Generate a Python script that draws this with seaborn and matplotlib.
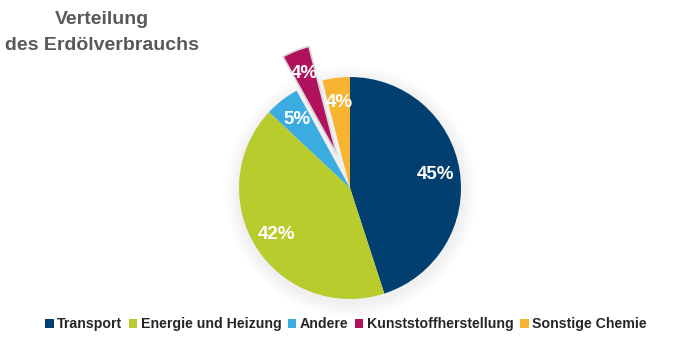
import matplotlib
matplotlib.use("Agg")
import matplotlib.pyplot as plt
from matplotlib.patches import Patch, Circle
from matplotlib import font_manager
import seaborn as sns

categories = ["Transport", "Energie und Heizung", "Andere", "Kunststoffherstellung", "Sonstige Chemie"]
values = [45, 42, 5, 4, 4]
colors = ["#003f6f", "#b8cd2d", "#3aace0", "#b1105c", "#f8b430"]
explode = [0, 0, 0, 0.33, 0]

sns.set_theme(style="white")
names = {f.name for f in font_manager.fontManager.ttflist}
fam = ["Liberation Sans Narrow", "Liberation Sans", "DejaVu Sans"]
fam = [f for f in fam if f in names] + ["DejaVu Sans"]
plt.rcParams["font.family"] = fam

fig = plt.figure(figsize=(7, 3.44), dpi=100)
fig.patch.set_facecolor("white")

ax = fig.add_axes([239 / 700, 45 / 344, 222 / 700, 222 / 344])
# soft shadow
for i in range(5):
    ax.add_patch(Circle((0.01, -0.03), 1.0 + 0.025 * (5 - i), color="#000000", alpha=0.012,
                        lw=0, zorder=0, clip_on=False))

wedges, texts, autotexts = ax.pie(
    values, colors=sns.color_palette(colors), startangle=90, counterclock=False,
    explode=explode, autopct="%d%%", pctdistance=0.78,
    textprops=dict(color="white", fontsize=13.5, fontweight="bold"),
    wedgeprops=dict(linewidth=0),
)
for w in wedges:
    w.set_clip_on(False)
    w.set_zorder(2)
wedges[3].set_edgecolor("#d6d6d6")
wedges[3].set_linewidth(1.2)
for t in autotexts:
    t.set_clip_on(False)
    t.set_zorder(3)
ax.set_xlim(-1, 1)
ax.set_ylim(-1, 1)
ax.set_aspect("equal")
ax.axis("off")

fig.text(102 / 700, 1 - 20 / 344, "Verteilung", ha="center", va="center",
         fontsize=14, fontweight="bold", color="#595959")
fig.text(102 / 700, 1 - 46 / 344, "des Erdölverbrauchs", ha="center", va="center",
         fontsize=14, fontweight="bold", color="#595959")

handles = [Patch(facecolor=c, edgecolor="none", label=l) for c, l in zip(colors, categories)]
fig.legend(handles=handles, loc="center", bbox_to_anchor=(346 / 700, 1 - 324 / 344), ncol=5,
           frameon=False, handlelength=0.6, handleheight=0.6,
           handletextpad=0.25, columnspacing=0.45, labelcolor="#262626",
           prop=dict(weight="bold", size=10.2))

fig.savefig("out.png", dpi=100, facecolor="white")
